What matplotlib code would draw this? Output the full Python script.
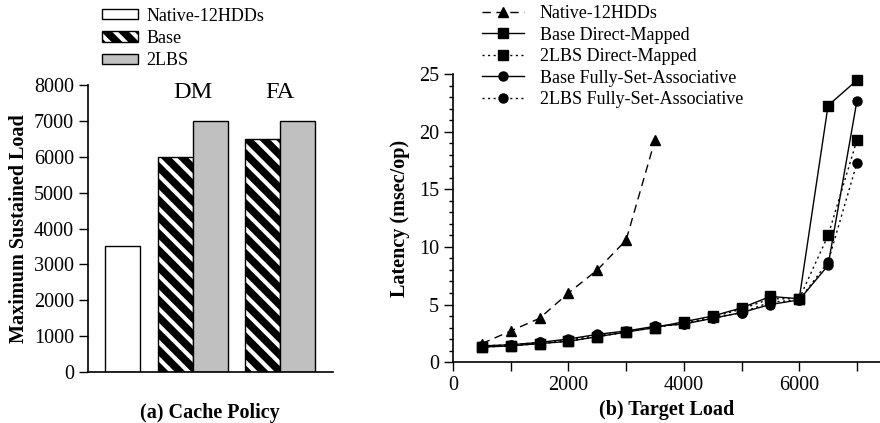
import numpy as np
import matplotlib.pyplot as plt
from matplotlib.ticker import MultipleLocator, FixedLocator

plt.rcParams['font.family'] = ['Liberation Serif', 'DejaVu Serif']
plt.rcParams['font.size'] = 14.5
plt.rcParams['hatch.linewidth'] = 3.0

# (a) cache policy
policies = ['DM', 'FA']
native_load = 3500
base_load = [6000, 6500]
lbs_load = [7000, 7000]

# (b) target load vs latency
target = [500, 1000, 1500, 2000, 2500, 3000, 3500, 4000, 4500, 5000, 5500, 6000, 6500, 7000]
native_lat = [1.6, 2.7, 3.8, 6.0, 8.0, 10.6, 19.3]
base_dm = [1.3, 1.4, 1.6, 1.8, 2.2, 2.6, 3.0, 3.5, 4.0, 4.7, 5.7, 5.5, 22.3, 24.5]
lbs_dm = [1.3, 1.4, 1.6, 1.8, 2.2, 2.6, 3.0, 3.4, 3.9, 4.6, 5.5, 5.5, 11.0, 19.3]
base_fa = [1.4, 1.5, 1.7, 2.0, 2.4, 2.7, 3.1, 3.3, 3.8, 4.3, 5.0, 5.4, 8.4, 22.7]
lbs_fa = [1.4, 1.5, 1.7, 1.9, 2.3, 2.6, 3.1, 3.3, 3.8, 4.3, 5.2, 5.4, 8.7, 17.3]

fig = plt.figure(figsize=(8.8, 4.23), dpi=100)
ax1 = fig.add_axes([0.1, 0.1206, 0.278, 0.6784])
ax2 = fig.add_axes([0.5148, 0.1442, 0.4852, 0.6797])

for ax in (ax1, ax2):
    ax.spines['top'].set_visible(False)
    ax.spines['right'].set_visible(False)
    ax.spines['left'].set_linewidth(1.2)
    ax.spines['bottom'].set_linewidth(1.2)
    ax.tick_params(which='major', direction='out', length=6.5, width=1)
    ax.tick_params(which='minor', direction='out', length=3, width=1)

# bar chart
grp = np.array([2.5, 5.0])
h_nat = ax1.bar([1.0], [native_load], width=1.0, color='white', edgecolor='black', linewidth=1)
h_base_fill = ax1.bar(grp, base_load, width=1.0, color='black', edgecolor='white',
                      hatch='\\\\', linewidth=0)
h_base_edge = ax1.bar(grp, base_load, width=1.0, fill=False, edgecolor='black', linewidth=1)
h_lbs = ax1.bar(grp + 1, lbs_load, width=1.0, color='#c0c0c0', edgecolor='black', linewidth=1)
for x, name in zip(grp + 0.5, policies):
    ax1.text(x, 7800, name, ha='center', va='center', fontsize=17.5)
ax1.set_xlim(0, 7)
ax1.set_ylim(0, 8000)
ax1.yaxis.set_major_locator(MultipleLocator(1000))
ax1.set_xticks([])
ax1.set_ylabel('Maximum Sustained Load', fontweight='bold')
ax1.yaxis.set_label_coords(-0.243, 0.5)
ax1.set_xlabel('(a) Cache Policy', fontweight='bold', labelpad=22)

fig.legend([h_nat, (h_base_fill, h_base_edge), h_lbs], ['Native-12HDDs', 'Base', '2LBS'],
           loc='upper left', bbox_to_anchor=(0.116, 0.982), frameon=False, fontsize=13,
           borderpad=0, borderaxespad=0, handlelength=2.0, handleheight=0.5,
           handletextpad=0.45, labelspacing=0.3)

# line chart
lw = 1.0
ms = 6.5
ax2.plot(target[:len(native_lat)], native_lat, color='black', ls=(0, (6, 4)), lw=lw,
         marker='^', ms=ms, label='Native-12HDDs')
ax2.plot(target, base_dm, color='black', ls='-', lw=lw, marker='s', ms=ms,
         label='Base Direct-Mapped')
ax2.plot(target, lbs_dm, color='black', ls=(0, (1.5, 2.5)), lw=lw, marker='s', ms=ms,
         label='2LBS Direct-Mapped')
ax2.plot(target, base_fa, color='black', ls='-', lw=lw, marker='o', ms=ms,
         label='Base Fully-Set-Associative')
ax2.plot(target, lbs_fa, color='black', ls=(0, (1.5, 2.5)), lw=lw, marker='o', ms=ms,
         label='2LBS Fully-Set-Associative')
ax2.set_xlim(0, 7400)
ax2.set_ylim(0, 25)
ax2.xaxis.set_major_locator(MultipleLocator(2000))
ax2.xaxis.set_minor_locator(FixedLocator([1000, 3000, 5000, 7000]))
ax2.tick_params(axis='x', which='minor', length=6.5)
ax2.yaxis.set_major_locator(MultipleLocator(5))
ax2.yaxis.set_minor_locator(MultipleLocator(1))
ax2.set_ylabel('Latency (msec/op)', fontweight='bold')
ax2.yaxis.set_label_coords(-0.10, 0.5)
ax2.set_xlabel('(b) Target Load', fontweight='bold', labelpad=4)

h, l = ax2.get_legend_handles_labels()
fig.legend(h, l, loc='upper left', bbox_to_anchor=(0.5477, 0.988), frameon=False, fontsize=13,
           borderpad=0, borderaxespad=0, handlelength=2.3, handletextpad=0.9,
           labelspacing=0.25)

fig.savefig('out.png', dpi=100)
